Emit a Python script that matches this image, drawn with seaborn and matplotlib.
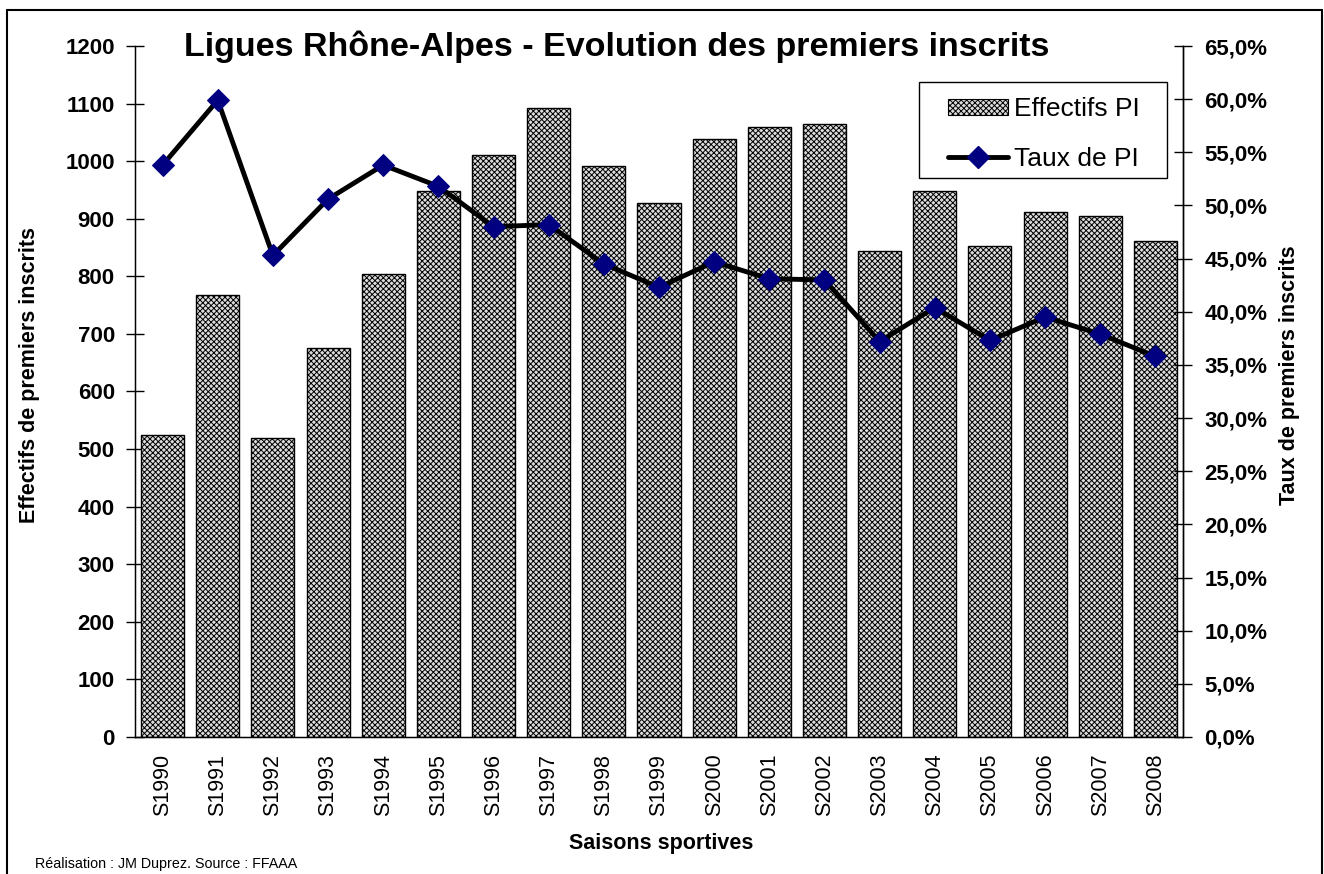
import numpy as np
import pandas as pd
import matplotlib
matplotlib.use("Agg")
import matplotlib.pyplot as plt
import seaborn as sns
from matplotlib.ticker import FuncFormatter, MultipleLocator, FixedLocator
from matplotlib.patches import Patch, Rectangle
from matplotlib.lines import Line2D

seasons = ["S1990", "S1991", "S1992", "S1993", "S1994", "S1995", "S1996", "S1997",
           "S1998", "S1999", "S2000", "S2001", "S2002", "S2003", "S2004", "S2005",
           "S2006", "S2007", "S2008"]
effectifs = [525, 767, 519, 676, 804, 949, 1010, 1093, 991, 927, 1038, 1059, 1064,
             844, 949, 853, 912, 905, 862]
taux = [53.8, 59.9, 45.3, 50.6, 53.8, 51.8, 48.0, 48.2, 44.5, 42.3, 44.7, 43.1, 43.0,
        37.2, 40.4, 37.3, 39.5, 37.9, 35.8]

sns.set_style("white")
plt.rcParams["font.family"] = ["Liberation Sans", "DejaVu Sans"]
plt.rcParams["hatch.color"] = "#505050"
plt.rcParams["hatch.linewidth"] = 0.7
for k in ["text.color", "axes.labelcolor", "xtick.color", "ytick.color", "axes.edgecolor"]:
    plt.rcParams[k] = "black"

df = pd.DataFrame({"season": seasons, "eff": effectifs, "taux": np.array(taux) / 100})

W, H = 1324, 874
fig = plt.figure(figsize=(W / 100, H / 100), dpi=100)
ax = fig.add_axes([135 / W, 1 - 737 / H, (1183 - 135) / W, (737 - 46) / H])

BAR_FACE = "#dcdcdc"
HATCH = "xxxxxx"
sns.barplot(data=df, x="season", y="eff", ax=ax, color=BAR_FACE, edgecolor="black",
            linewidth=1.0, width=0.78, hatch=HATCH, saturation=1)

ax.set_ylim(0, 1200)
ax.set_xlim(-0.5, len(seasons) - 0.5)
ax.yaxis.set_major_locator(MultipleLocator(100))
ax.tick_params(axis="y", direction="inout", length=13, width=1, labelsize=16, pad=8,
               colors="black")
for t in ax.get_yticklabels():
    t.set_fontweight("bold")

# x ticks: labels at centres, tick marks at boundaries
ax.set_xticks(np.arange(len(seasons)))
ax.set_xticklabels(seasons, rotation=90, fontsize=15.5)
ax.tick_params(axis="x", which="major", length=0, pad=12, colors="black")
ax.xaxis.set_minor_locator(FixedLocator(np.arange(len(seasons) + 1) - 0.5))
ax.tick_params(axis="x", which="minor", direction="inout", length=14, width=1, colors="black")

ax.spines["top"].set_visible(False)
for s in ["left", "bottom", "right"]:
    ax.spines[s].set_color("black")
    ax.spines[s].set_linewidth(1.0)

ax.set_xlabel("")
ax.set_ylabel("")

ax2 = ax.twinx()
sns.lineplot(x=np.arange(len(seasons)), y=df["taux"], ax=ax2, color="black", linewidth=3.5,
             marker="D", markersize=11, markerfacecolor="#000080", markeredgecolor="#000080")
ax2.set_ylim(0, 0.65)
ax2.set_xlim(-0.5, len(seasons) - 0.5)
ax2.yaxis.set_major_locator(MultipleLocator(0.05))
ax2.yaxis.set_major_formatter(FuncFormatter(lambda v, p: f"{v*100:.1f}%".replace(".", ",")))
ax2.tick_params(axis="y", direction="inout", length=13, width=1, labelsize=16, pad=9,
                colors="black")
for t in ax2.get_yticklabels():
    t.set_fontweight("bold")
ax2.spines["top"].set_visible(False)
ax2.spines["right"].set_linewidth(1.0)
ax2.spines["right"].set_color("black")
ax2.set_ylabel("")
ax2.set_xlabel("")

# texts
fig.text(617 / W, 1 - 47 / H, "Ligues Rhône-Alpes - Evolution des premiers inscrits",
         ha="center", va="center", fontsize=24.5, fontweight="bold", color="black")
fig.text(30 / W, 1 - 375 / H, "Effectifs de premiers inscrits", rotation=90,
         ha="center", va="center", fontsize=15.5, fontweight="bold", color="black")
fig.text(1290 / W, 1 - 375 / H, "Taux de premiers inscrits", rotation=90,
         ha="center", va="center", fontsize=15.5, fontweight="bold", color="black")
fig.text(661 / W, 1 - 843 / H, "Saisons sportives", ha="center", va="center",
         fontsize=15.5, fontweight="bold", color="black")
fig.text(35 / W, 1 - 864 / H, "Réalisation : JM Duprez. Source : FFAAA", ha="left",
         va="center", fontsize=10.3, color="black")

# legend: frame drawn as its own rectangle
fig.add_artist(Rectangle((919 / W, 1 - 178 / H), (1167 - 919) / W, (178 - 82) / H,
                         transform=fig.transFigure, facecolor="white", edgecolor="black",
                         linewidth=1.0, zorder=5))
handles = [Patch(facecolor=BAR_FACE, edgecolor="black", hatch=HATCH, linewidth=0.8),
           Line2D([0], [0], color="black", linewidth=3.5, marker="D", markersize=11,
                  markerfacecolor="#000080", markeredgecolor="#000080")]
leg = fig.legend(handles, ["Effectifs PI", "Taux de PI"], loc="center",
                 bbox_to_anchor=(1044 / W, 1 - 134 / H), bbox_transform=fig.transFigure,
                 fontsize=19, frameon=False, handlelength=2.25, handleheight=0.55,
                 handletextpad=0.25, borderpad=0.0, labelspacing=0.95, borderaxespad=0)
leg.set_zorder(6)
for t in leg.get_texts():
    t.set_color("black")

# figure border (left, top, right)
for xs, ys in [([7, 7], [874, 10]), ([7, 1322], [10, 10]), ([1322, 1322], [10, 874])]:
    fig.add_artist(Line2D([x / W for x in xs], [1 - y / H for y in ys],
                          transform=fig.transFigure, color="black", linewidth=1.5))

fig.savefig("out.png", dpi=100, facecolor="white")
